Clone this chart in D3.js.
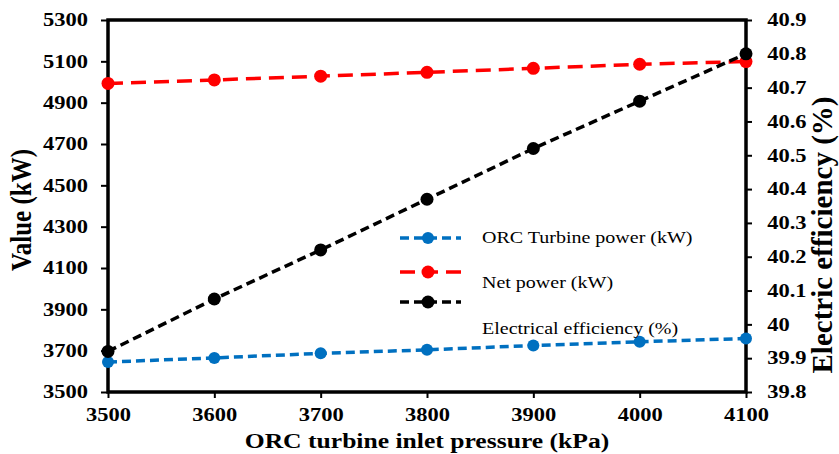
<!DOCTYPE html>
<html>
<head>
<meta charset="utf-8">
<script src="https://cdn.jsdelivr.net/npm/d3@7"></script>
<style>
  body { margin: 0; background: #fff; }
  svg text { font-family: "Liberation Serif", "Times New Roman", Times, serif !important; }
</style>
</head>
<body>
<script>
// data
const pressure = [3500, 3600, 3700, 3800, 3900, 4000, 4100];
const turbinePower = [3645, 3665, 3687, 3704, 3725, 3743, 3759];
const netPower = [4993, 5010, 5028, 5047, 5066, 5086, 5099];
const efficiency = [39.92, 40.075, 40.22, 40.37, 40.52, 40.66, 40.80];
const leftTicks = [3500, 3700, 3900, 4100, 4300, 4500, 4700, 4900, 5100, 5300];
const rightTicks = [39.8, 39.9, 40, 40.1, 40.2, 40.3, 40.4, 40.5, 40.6, 40.7, 40.8, 40.9];
const xTicks = [3500, 3600, 3700, 3800, 3900, 4000, 4100];
const seriesNames = ["ORC Turbine power (kW)", "Net power (kW)", "Electrical efficiency (%)"];

const width = 839, height = 454;
const margin = {top: 20, right: 93, bottom: 62, left: 108};
const stretch = "scale(1.25,1)";

const svg = d3.select("body").append("svg")
  .attr("width", width)
  .attr("height", height)
  .attr("font-family", "Liberation Serif, serif");

const x = d3.scaleLinear().domain([3500, 4100]).range([margin.left, width - margin.right]);
const yL = d3.scaleLinear().domain([3500, 5300]).range([height - margin.bottom, margin.top]);
const yR = d3.scaleLinear().domain([39.8, 40.9]).range([height - margin.bottom, margin.top]);

// axes
const xAxis = svg.append("g")
  .attr("transform", `translate(0,${height - margin.bottom})`)
  .call(d3.axisBottom(x).tickValues(xTicks).tickSize(6).tickPadding(10).tickSizeOuter(0).tickFormat(d3.format("d")));
const leftAxis = svg.append("g")
  .attr("transform", `translate(${margin.left},0)`)
  .call(d3.axisLeft(yL).tickValues(leftTicks).tickSize(7).tickPadding(9).tickSizeOuter(0).tickFormat(d3.format("d")));
const rightAxis = svg.append("g")
  .attr("transform", `translate(${width - margin.right},0)`)
  .call(d3.axisRight(yR).tickValues(rightTicks).tickSize(6).tickPadding(11).tickSizeOuter(0)
    .tickFormat(d => String(+d.toFixed(1))));

[xAxis, leftAxis, rightAxis].forEach(g => {
  g.attr("font-family", null);
  g.select(".domain").remove();
  g.selectAll(".tick line").attr("stroke", "#000").attr("stroke-width", 2);
  g.selectAll(".tick text")
    .attr("fill", "#000")
    .attr("font-size", 18)
    .attr("font-weight", "bold")
    .attr("transform", stretch);
});

// frame
svg.append("rect")
  .attr("x", margin.left)
  .attr("y", margin.top)
  .attr("width", width - margin.left - margin.right)
  .attr("height", height - margin.top - margin.bottom)
  .attr("fill", "none")
  .attr("stroke", "#000")
  .attr("stroke-width", 3.5);

// axis titles
svg.append("text")
  .attr("transform", `translate(${(margin.left + width - margin.right) / 2},448) scale(1.22,1)`)
  .attr("text-anchor", "middle")
  .attr("font-size", 21)
  .attr("font-weight", "bold")
  .text("ORC turbine inlet pressure (kPa)");

svg.append("text")
  .attr("transform", "translate(31,210) rotate(-90) scale(1,1.15)")
  .attr("text-anchor", "middle")
  .attr("font-size", 25)
  .attr("font-weight", "bold")
  .text("Value (kW)");

svg.append("text")
  .attr("transform", "translate(832,235) rotate(-90)")
  .attr("text-anchor", "middle")
  .attr("font-size", 29)
  .attr("font-weight", "bold")
  .text("Electric efficiency (%)");

// series
const series = [
  {name: seriesNames[0], values: turbinePower, y: yL, color: "#0070c0", dash: "9,5", r: 6},
  {name: seriesNames[1], values: netPower, y: yL, color: "#ff0000", dash: "15,8", r: 6.5},
  {name: seriesNames[2], values: efficiency, y: yR, color: "#000000", dash: "9,5", r: 6.5}
];

series.forEach(s => {
  const pts = pressure.map((p, i) => [p, s.values[i]]);
  svg.append("path")
    .datum(pts)
    .attr("fill", "none")
    .attr("stroke", s.color)
    .attr("stroke-width", 3.5)
    .attr("stroke-dasharray", s.dash)
    .attr("d", d3.line().x(d => x(d[0])).y(d => s.y(d[1])));
  svg.append("g").selectAll("circle")
    .data(pts)
    .join("circle")
    .attr("cx", d => x(d[0]))
    .attr("cy", d => s.y(d[1]))
    .attr("r", s.r)
    .attr("fill", s.color);
});

// legend
const legendRows = [238, 272, 302];
const legendTextY = [243, 288, 334];
series.forEach((s, i) => {
  const g = svg.append("g");
  g.append("line")
    .attr("x1", 400).attr("x2", 461)
    .attr("y1", legendRows[i]).attr("y2", legendRows[i])
    .attr("stroke", s.color)
    .attr("stroke-width", 3.5)
    .attr("stroke-dasharray", s.dash);
  g.append("circle")
    .attr("cx", 428).attr("cy", legendRows[i])
    .attr("r", s.r)
    .attr("fill", s.color);
  g.append("text")
    .attr("transform", `translate(482,${legendTextY[i]}) ${stretch}`)
    .attr("font-size", 16)
    .attr("fill", "#000")
    .text(s.name);
});
</script>
</body>
</html>
